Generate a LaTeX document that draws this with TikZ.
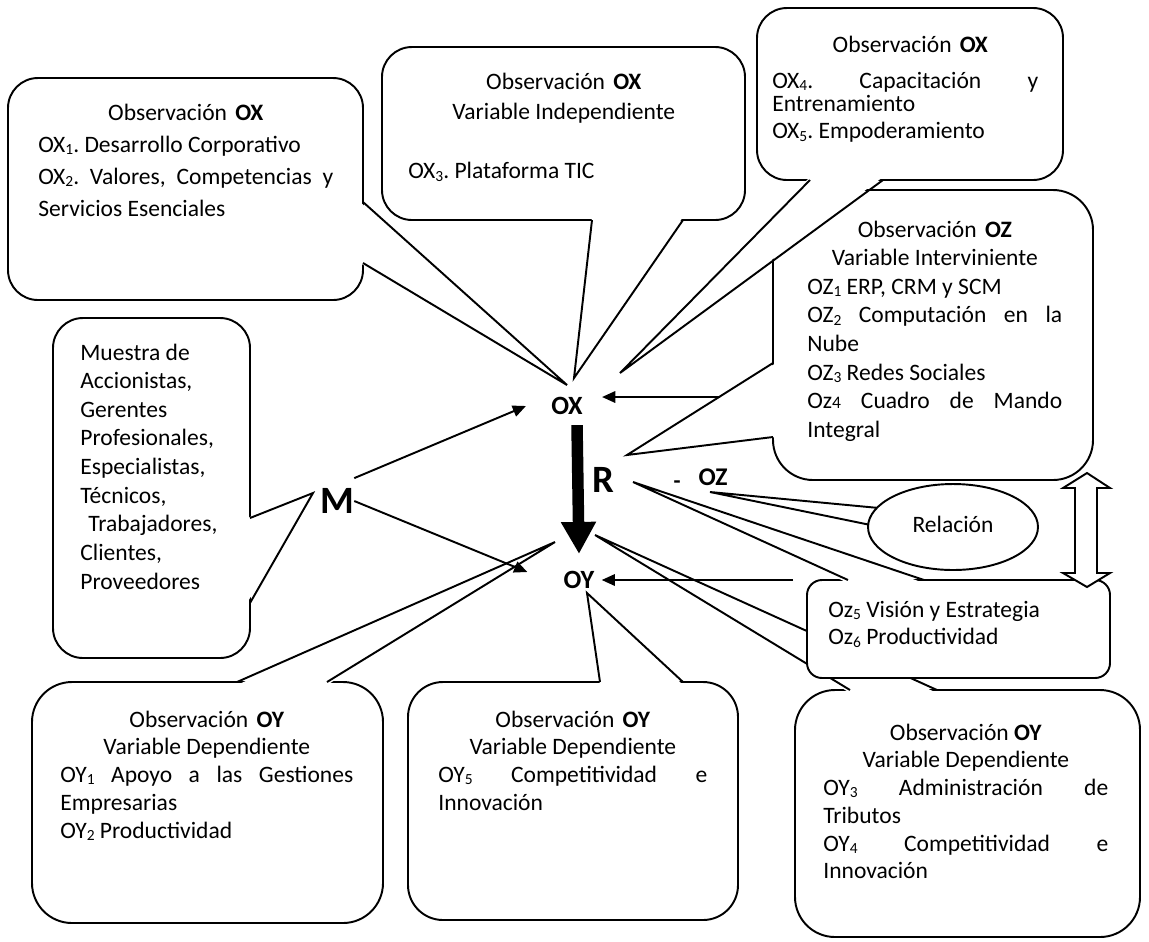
\documentclass[tikz,border=0pt]{standalone}
\usepackage{fontspec}
\setmainfont{Carlito}
\usetikzlibrary{arrows.meta,shapes.geometric}
\newcommand\nsp{\frenchspacing\spaceskip=0pt\xspaceskip=0pt\relax}
\newcommand\sbs[1]{\raisebox{-1.2pt}{\fontsize{8.8pt}{8.8pt}\selectfont #1}}
\begin{document}
\begin{tikzpicture}[x=0.02cm,y=-0.02cm,
  bx/.style={draw, fill=white, line width=1.1pt, rounded corners=#1},
  ptr/.style={draw, line width=1.1pt, line join=miter},
  txt/.style={inner sep=0pt, anchor=base west, align=left, font=\fontsize{13.4pt}{#1}\selectfont},
  lab/.style={inner sep=0pt, font=\bfseries\fontsize{#1}{#1}\selectfont},
  arr/.style={line width=1.1pt, -{Triangle[length=7.5pt,width=6.5pt]}}]
\useasboundingbox (0,0) rectangle (1149,941);

% OZ box
\draw[bx=0.8cm] (773,190) rectangle (1093,480);
\fill[white] (776,363) -- (627,455) -- (776,437) -- cycle;
\draw[ptr] (773,363) -- (627,455) -- (773,437);
% box 3 (OX4, OX5)
\draw[bx=0.6cm] (757,8) rectangle (1063,180);
\fill[white] (810,177) -- (620,373) -- (883,177) -- cycle;
\fill[white] (770,186) rectangle (805,240);
\draw[ptr] (810,180) -- (620,373) -- (883,180);
% box 1 (OX1, OX2)
\draw[bx=0.6cm] (8,78) rectangle (363,300);
\fill[white] (360,202) -- (567,385) -- (360,263) -- cycle;
\draw[ptr] (363,202) -- (567,385) -- (363,263);
% box 2 (OX3)
\draw[bx=0.6cm] (382,47) rectangle (745,220);
\fill[white] (592,217) -- (574,378) -- (683,217) -- cycle;
\draw[ptr] (592,220) -- (574,378) -- (683,220);
% Muestra box
\draw[bx=0.6cm] (53,318) rectangle (250,658);
\fill[white] (247,518) -- (313,493) -- (247,603) -- cycle;
\draw[ptr] (250,518) -- (313,493) -- (250,603);
% OY3 box
\draw[bx=0.8cm] (795,690) rectangle (1140,937);
\fill[white] (850,693) -- (595,535) -- (937,693) -- cycle;
\draw[ptr] (850,690) -- (595,535) -- (937,690);
% Oz5 box
\draw[bx=0.3cm] (807,580) rectangle (1110,678);
\fill[white] (848,583) -- (633,482) -- (924,583) -- cycle;
\draw[ptr] (848,580) -- (633,482) -- (924,580);
% Relacion ellipse
\draw[ptr] (900,510) -- (710,492) -- (890,529);
\node[draw, fill=white, ellipse, line width=1.1pt, minimum width=3.4cm, minimum height=1.72cm, inner sep=0pt,
  font=\fontsize{13.4pt}{16pt}\selectfont] (rel) at (953,527) {\raisebox{0.1cm}{Relación}};
% OY1 box
\draw[bx=0.8cm] (32,682) rectangle (383,923);
\fill[white] (237,685) -- (555,542) -- (327,685) -- cycle;
\draw[ptr] (237,682) -- (555,542) -- (327,682);
% OY5 box
\draw[bx=0.7cm] (408,682) rectangle (738,920);
\fill[white] (600,685) -- (587,593) -- (683,685) -- cycle;
\draw[ptr] (600,682) -- (587,593) -- (683,682);
% double arrow
\draw[fill=white, line width=1.1pt, line join=miter] (1087,473) -- (1110,488) -- (1097,488) -- (1097,573) -- (1110,573)
  -- (1087,587) -- (1063,573) -- (1075,573) -- (1075,488) -- (1063,488) -- cycle;

% texts
\node[txt=18.4pt, text width=5.9cm] (t1) at (38,120) {\nsp
\makebox[\linewidth]{Observación\hspace{0.35em}\textbf{OX}}\\
OX\sbs{1}. Desarrollo Corporativo\\
\makebox[\linewidth][s]{OX\sbs{2}. Valores, Competencias y}\\
Servicios Esenciales};
\node[txt=17.6pt, text width=6.22cm] (t2) at (408,89) {\nsp
\makebox[\linewidth]{Observación\hspace{0.35em}\textbf{OX}}\\
\makebox[\linewidth]{Variable Independiente}\\[16pt]
OX\sbs{3}. Plataforma TIC};
\node[txt=13.1pt, text width=5.32cm] (t3) at (772,52) {\nsp
\makebox[\linewidth]{\hspace{0.2cm}Observación\hspace{0.35em}\textbf{OX}}\\[7.4pt]
\makebox[\linewidth][s]{OX\sbs{4}. Capacitación y}\\
Entrenamiento\\[2.8pt]
OX\sbs{5}. Empoderamiento};
\node[txt=16.3pt, text width=5.1cm] (tz) at (807,237) {\nsp
\makebox[\linewidth]{Observación\hspace{0.35em}\textbf{OZ}}\\
\makebox[\linewidth]{Variable Interviniente}\\
OZ\sbs{1} ERP, CRM y SCM\\
\makebox[\linewidth][s]{OZ\sbs{2} Computación en la}\\
Nube\\
OZ\sbs{3} Redes Sociales\\
\makebox[\linewidth][s]{Oz{\fontsize{10pt}{10pt}\selectfont 4} Cuadro de Mando}\\
Integral};
\node[txt=16.3pt, text width=3.6cm] (tm) at (80,360) {\nsp
Muestra de\\
Accionistas,\\
Gerentes\\
Profesionales,\\
Especialistas,\\
Técnicos,\\
\hspace*{0.16cm}Trabajadores,\\
Clientes,\\
Proveedores};
\node[txt=15.9pt, text width=5.4cm] (t5) at (828,617) {\nsp
Oz\sbs{5} Visión y Estrategia\\
Oz\sbs{6} Productividad};
\node[txt=15.9pt, text width=5.86cm] (ty1) at (60,727) {\nsp
\makebox[\linewidth]{Observación\hspace{0.35em}\textbf{OY}}\\
\makebox[\linewidth]{Variable Dependiente}\\
\makebox[\linewidth][s]{OY\sbs{1} Apoyo a las Gestiones}\\
Empresarias\\
OY\sbs{2} Productividad};
\node[txt=15.8pt, text width=5.38cm] (ty5) at (438,727) {\nsp
\makebox[\linewidth]{Observación\hspace{0.35em}\textbf{OY}}\\
\makebox[\linewidth]{Variable Dependiente}\\
\makebox[\linewidth][s]{OY\sbs{5} Competitividad e}\\
Innovación};
\node[txt=15.8pt, text width=5.7cm] (ty3) at (823,740) {\nsp
\makebox[\linewidth]{Observación \textbf{OY}}\\
\makebox[\linewidth]{Variable Dependiente}\\
\makebox[\linewidth][s]{OY\sbs{3} Administración de}\\
Tributos\\
\makebox[\linewidth][s]{OY\sbs{4} Competitividad e}\\
Innovación};

% labels
\node[lab=15pt] (OX) at (567,406) {OX};
\node[lab=15pt] (OY) at (579,580) {OY};
\node[lab=14.5pt] (OZ) at (713,477) {OZ};
\node[lab=22pt] (R) at (603,480) {R};
\node[lab=22pt] (M) at (337,501) {M};
\node[inner sep=0pt, font=\bfseries\fontsize{13pt}{13pt}\selectfont] (dash) at (677,485) {-};

% connectors
\coordinate (ozin) at (720,397);
\coordinate (oyin) at (793,580);
\draw[line width=0.23cm, -{Triangle[length=0.64cm,width=0.66cm]}] ([xshift=0.2cm,yshift=-0.2cm]OX.south) -- ([yshift=0.34cm]OY.north);
\draw[arr] ([yshift=0.2cm]M.north east) -- ([xshift=-0.5cm]OX.west);
\draw[arr] (M.east) -- ([xshift=-0.72cm,yshift=0.16cm]OY.west);
\draw[arr] (ozin) -- ([xshift=0.38cm,yshift=0.18cm]OX.east);
\draw[arr] (oyin) -- ([xshift=0.14cm]OY.east);
\end{tikzpicture}
\end{document}
